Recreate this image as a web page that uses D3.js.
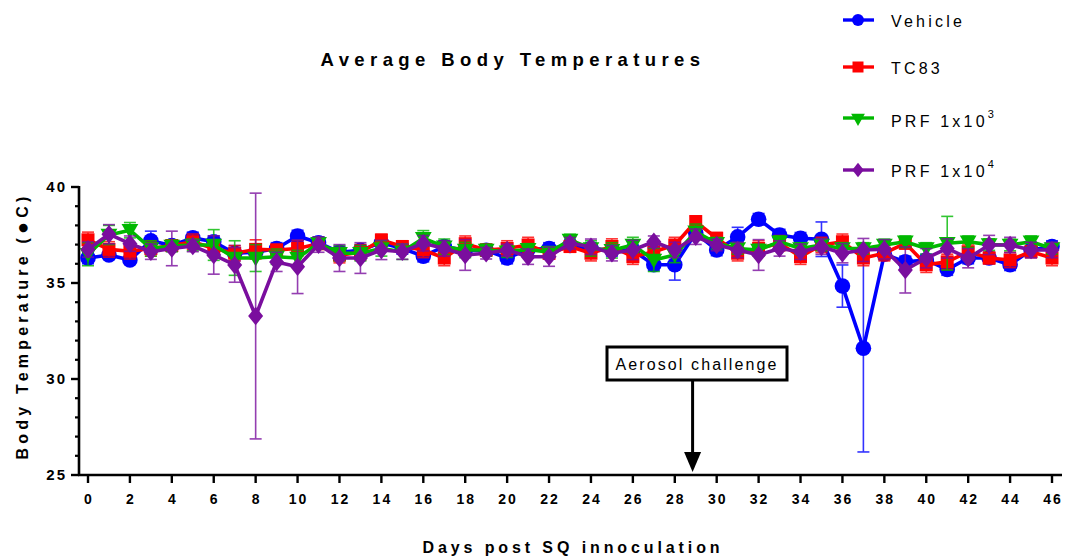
<!DOCTYPE html>
<html>
<head>
<meta charset="utf-8">
<script src="https://cdn.jsdelivr.net/npm/d3@7"></script>
<style>
  html, body { margin: 0; padding: 0; background: #fff; }
  svg { display: block; font-family: "Liberation Sans", Arial, sans-serif; }
</style>
</head>
<body>
<svg id="chart" width="1070" height="558"></svg>
<script>
// Days after subcutaneous inoculation
const days = [0,1,2,3,4,5,6,7,8,9,10,11,12,13,14,15,16,17,18,19,20,21,22,23,24,25,26,27,28,29,30,31,32,33,34,35,36,37,38,39,40,41,42,43,44,45,46];

// Mean body temperature (°C) per group
const vehicle = [36.3,36.46,36.2,37.2,36.95,37.35,37.15,36.55,36.6,36.8,37.45,37.1,36.6,36.7,37.1,36.8,36.4,36.9,36.7,36.7,36.3,36.75,36.8,36.95,36.8,36.7,36.7,35.95,35.95,37.6,36.72,37.4,38.32,37.5,37.33,37.28,34.84,31.6,36.5,36.1,36.2,35.7,36.3,36.3,35.95,36.72,36.9];
const tc83 = [37.25,36.75,36.65,36.8,36.95,37.15,36.8,36.55,36.75,36.72,36.8,37.05,36.45,36.6,37.24,36.9,36.72,36.3,37.05,36.72,36.8,36.98,36.55,36.9,36.55,36.9,36.37,36.63,36.98,38.2,37.33,36.55,36.8,37.07,36.37,36.98,37.15,36.3,36.55,37.07,35.95,36.1,36.63,36.3,36.2,36.63,36.3];
const prf1e3 = [36.5,37.5,37.75,36.8,36.93,36.98,36.98,36.3,36.3,36.37,36.3,37.07,36.55,36.55,36.8,36.63,37.33,36.89,36.72,36.72,36.63,36.75,36.6,37.24,36.8,36.7,36.98,36.2,36.46,37.67,37.07,36.8,36.72,37.15,36.8,36.98,36.8,36.8,36.98,37.15,36.8,37.07,37.15,37.0,36.98,37.15,36.8];
const prf1e4 = [36.75,37.54,37.05,36.63,36.8,36.93,36.46,35.94,33.28,36.1,35.85,37.0,36.3,36.3,36.72,36.63,37.07,36.8,36.46,36.55,36.72,36.37,36.37,37.07,36.89,36.55,36.72,37.15,36.72,37.41,36.98,36.72,36.46,36.8,36.63,36.89,36.55,36.72,36.76,35.68,36.29,36.8,36.29,36.98,36.98,36.72,36.72];

// Standard deviations per group
const vehicleSD = [0.3,0.2,0.2,0.5,0.3,0.3,0.3,0.4,0.3,0.3,0.3,0.3,0.3,0.3,0.3,0.3,0.3,0.3,0.3,0.3,0.3,0.3,0.3,0.3,0.3,0.3,0.3,0.3,0.8,0.3,0.3,0.5,0.3,0.3,0.3,0.9,1.1,5.4,0.3,0.3,0.3,0.3,0.3,0.3,0.3,0.4,0.3];
const tc83SD = [0.4,0.4,0.4,0.4,0.3,0.4,0.4,0.4,0.5,0.3,0.4,0.3,0.4,0.4,0.3,0.3,0.4,0.4,0.4,0.3,0.4,0.4,0.3,0.3,0.4,0.4,0.4,0.4,0.4,0.3,0.3,0.4,0.4,0.4,0.4,0.4,0.4,0.4,0.4,0.3,0.4,0.4,0.4,0.3,0.4,0.3,0.4];
const prf1e3SD = [0.6,0.5,0.4,0.4,0.3,0.3,0.8,0.9,0.7,0.4,0.4,0.3,0.4,0.4,0.4,0.4,0.4,0.4,0.4,0.3,0.3,0.3,0.3,0.3,0.4,0.4,0.4,0.6,0.4,0.4,0.3,0.3,0.3,0.3,0.3,0.3,0.3,0.3,0.3,0.3,0.3,1.4,0.3,0.3,0.3,0.3,0.3];
const prf1e4SD = [0.4,0.5,0.4,0.4,0.9,0.3,1.0,0.9,6.4,0.5,1.4,0.4,0.7,0.8,0.5,0.4,0.4,0.4,0.8,0.3,0.3,0.4,0.5,0.3,0.4,0.4,0.5,0.3,0.4,0.4,0.3,0.4,0.8,0.4,0.4,0.4,0.5,0.6,0.5,1.2,0.5,0.5,0.5,0.5,0.4,0.4,0.4];

const groupNames = ["Vehicle", "TC83", "PRF 1x10", "PRF 1x10"];
const groupExp = ["", "", "3", "4"];
const groupColors = ["#0000ff", "#ff0000", "#00b800", "#7a0e9e"];
const groupShapes = ["circle", "square", "triangleDown", "diamond"];
const groupMeans = [vehicle, tc83, prf1e3, prf1e4];
const groupSDs = [vehicleSD, tc83SD, prf1e3SD, prf1e4SD];

const xTicks = [0,2,4,6,8,10,12,14,16,18,20,22,24,26,28,30,32,34,36,38,40,42,44,46];
const yTicks = [25,30,35,40];
const yMinorTicks = [26,27,28,29,31,32,33,34,36,37,38,39];
const challengeDay = 28.85;

const svg = d3.select("#chart");
const x = d3.scaleLinear().domain([0, 46]).range([88, 1052]);
const y = d3.scaleLinear().domain([25, 40]).range([475, 187]);
const axisX0 = 79, axisX1 = 1062;

// Title
svg.append("text")
  .attr("x", 513).attr("y", 66)
  .attr("text-anchor", "middle")
  .attr("font-size", 18.5).attr("font-weight", "bold")
  .attr("letter-spacing", 5.4)
  .text("Average Body Temperatures");

// Y axis
const gy = svg.append("g").attr("transform", `translate(${axisX0},0)`);
gy.append("line").attr("x1", 0).attr("x2", 0).attr("y1", y(40) - 1).attr("y2", y(25) + 1)
  .attr("stroke", "#000").attr("stroke-width", 2.6);
gy.selectAll(".ymaj").data(yTicks).join("line")
  .attr("x1", -8).attr("x2", 0).attr("y1", d => y(d)).attr("y2", d => y(d))
  .attr("stroke", "#000").attr("stroke-width", 2.4);
gy.selectAll(".ymin").data(yMinorTicks).join("line")
  .attr("x1", -4).attr("x2", 0).attr("y1", d => y(d)).attr("y2", d => y(d))
  .attr("stroke", "#000").attr("stroke-width", 2.2);
gy.selectAll(".ylab").data(yTicks).join("text")
  .attr("x", -12).attr("y", d => y(d) + 5)
  .attr("text-anchor", "end")
  .attr("font-size", 15).attr("font-weight", "bold").attr("letter-spacing", 2)
  .text(d => d);

// X axis
const gx = svg.append("g").attr("transform", `translate(0,${y(25)})`);
gx.append("line").attr("x1", axisX0 - 1).attr("x2", axisX1).attr("y1", 0).attr("y2", 0)
  .attr("stroke", "#000").attr("stroke-width", 2.6);
gx.selectAll(".xt").data(xTicks).join("line")
  .attr("x1", d => x(d)).attr("x2", d => x(d)).attr("y1", 0).attr("y2", 8)
  .attr("stroke", "#000").attr("stroke-width", 2.4);
gx.selectAll(".xl").data(xTicks).join("text")
  .attr("x", d => x(d) + 1).attr("y", 29)
  .attr("text-anchor", "middle")
  .attr("font-size", 14).attr("font-weight", "bold").attr("letter-spacing", 2)
  .text(d => d);

// Axis titles
svg.append("text")
  .attr("x", 573).attr("y", 553)
  .attr("text-anchor", "middle")
  .attr("font-size", 16).attr("font-weight", "bold").attr("letter-spacing", 3.9)
  .text("Days post SQ innoculation");
const yTitle = svg.append("text")
  .attr("transform", "translate(28,326) rotate(-90)")
  .attr("text-anchor", "middle")
  .attr("font-size", 16).attr("font-weight", "bold").attr("letter-spacing", 4.2)
  .text("Body Temperature (");
yTitle.append("tspan").attr("font-size", 20).attr("dy", 1).text("\u25CF");
yTitle.append("tspan").attr("font-size", 16).attr("dy", -1).text("C)");

// Marker paths
function markerPath(shape, s) {
  switch (shape) {
    case "circle": return d3.symbol(d3.symbolCircle, s * s * 0.85)();
    case "square": return `M${-s/2},${-s/2}H${s/2}V${s/2}H${-s/2}Z`;
    case "triangleDown": return `M${-s*0.6},${-s*0.45}H${s*0.6}L0,${s*0.6}Z`;
    case "diamond": return `M0,${-s*0.62}L${s*0.5},0L0,${s*0.62}L${-s*0.5},0Z`;
  }
}
const markerSize = [15, 13, 14, 15];

const line = d3.line().x(d => x(d.day)).y(d => y(d.mean));

// Series: error bars, connecting line, markers
groupMeans.forEach((means, i) => {
  const pts = days.map((d, k) => ({ day: d, mean: means[k], sd: groupSDs[i][k] }));
  const g = svg.append("g");
  const eb = g.append("g").attr("stroke", groupColors[i]).attr("stroke-width", 1.6).attr("opacity", 0.8);
  eb.selectAll(".v").data(pts).join("line")
    .attr("x1", d => x(d.day)).attr("x2", d => x(d.day))
    .attr("y1", d => y(d.mean - d.sd)).attr("y2", d => y(d.mean + d.sd));
  eb.selectAll(".t").data(pts).join("line")
    .attr("x1", d => x(d.day) - 6).attr("x2", d => x(d.day) + 6)
    .attr("y1", d => y(d.mean + d.sd)).attr("y2", d => y(d.mean + d.sd));
  eb.selectAll(".b").data(pts).join("line")
    .attr("x1", d => x(d.day) - 6).attr("x2", d => x(d.day) + 6)
    .attr("y1", d => y(d.mean - d.sd)).attr("y2", d => y(d.mean - d.sd));
  g.append("path").datum(pts)
    .attr("d", line).attr("fill", "none")
    .attr("stroke", groupColors[i]).attr("stroke-width", 3.6)
    .attr("stroke-linejoin", "round");
  g.selectAll(".m").data(pts).join("path")
    .attr("transform", d => `translate(${x(d.day)},${y(d.mean)})`)
    .attr("d", markerPath(groupShapes[i], markerSize[i]))
    .attr("fill", groupColors[i]);
});

// Aerosol challenge annotation
const ax = x(challengeDay);
svg.append("rect")
  .attr("x", 607).attr("y", 347).attr("width", 180).attr("height", 33)
  .attr("fill", "#fff").attr("stroke", "#000").attr("stroke-width", 3);
svg.append("text")
  .attr("x", 697).attr("y", 370)
  .attr("text-anchor", "middle")
  .attr("font-size", 16).attr("letter-spacing", 2.1)
  .text("Aerosol challenge");
svg.append("line")
  .attr("x1", ax).attr("x2", ax).attr("y1", 381).attr("y2", 455)
  .attr("stroke", "#000").attr("stroke-width", 3);
svg.append("path")
  .attr("d", `M${ax - 8.5},452L${ax + 8.5},452L${ax},472Z`)
  .attr("fill", "#000");

// Legend
const legendY = [20, 67, 120, 170];
const legend = svg.append("g");
groupNames.forEach((name, i) => {
  const ly = legendY[i];
  const lineY = i === 2 ? ly - 2 : ly;
  legend.append("line").attr("x1", 843).attr("x2", 874).attr("y1", lineY).attr("y2", lineY)
    .attr("stroke", groupColors[i]).attr("stroke-width", 3.4);
  legend.append("path")
    .attr("transform", `translate(858,${lineY + (i === 2 ? 1 : 0)})`)
    .attr("d", markerPath(groupShapes[i], i === 1 ? 11 : 11.5))
    .attr("fill", groupColors[i]);
  const t = legend.append("text")
    .attr("x", 891).attr("y", ly + 7)
    .attr("font-size", 16).attr("letter-spacing", 3.2)
    .text(name);
  if (groupExp[i]) {
    t.append("tspan").attr("dy", -9).attr("font-size", 11).text(groupExp[i]);
  }
});
</script>
</body>
</html>
